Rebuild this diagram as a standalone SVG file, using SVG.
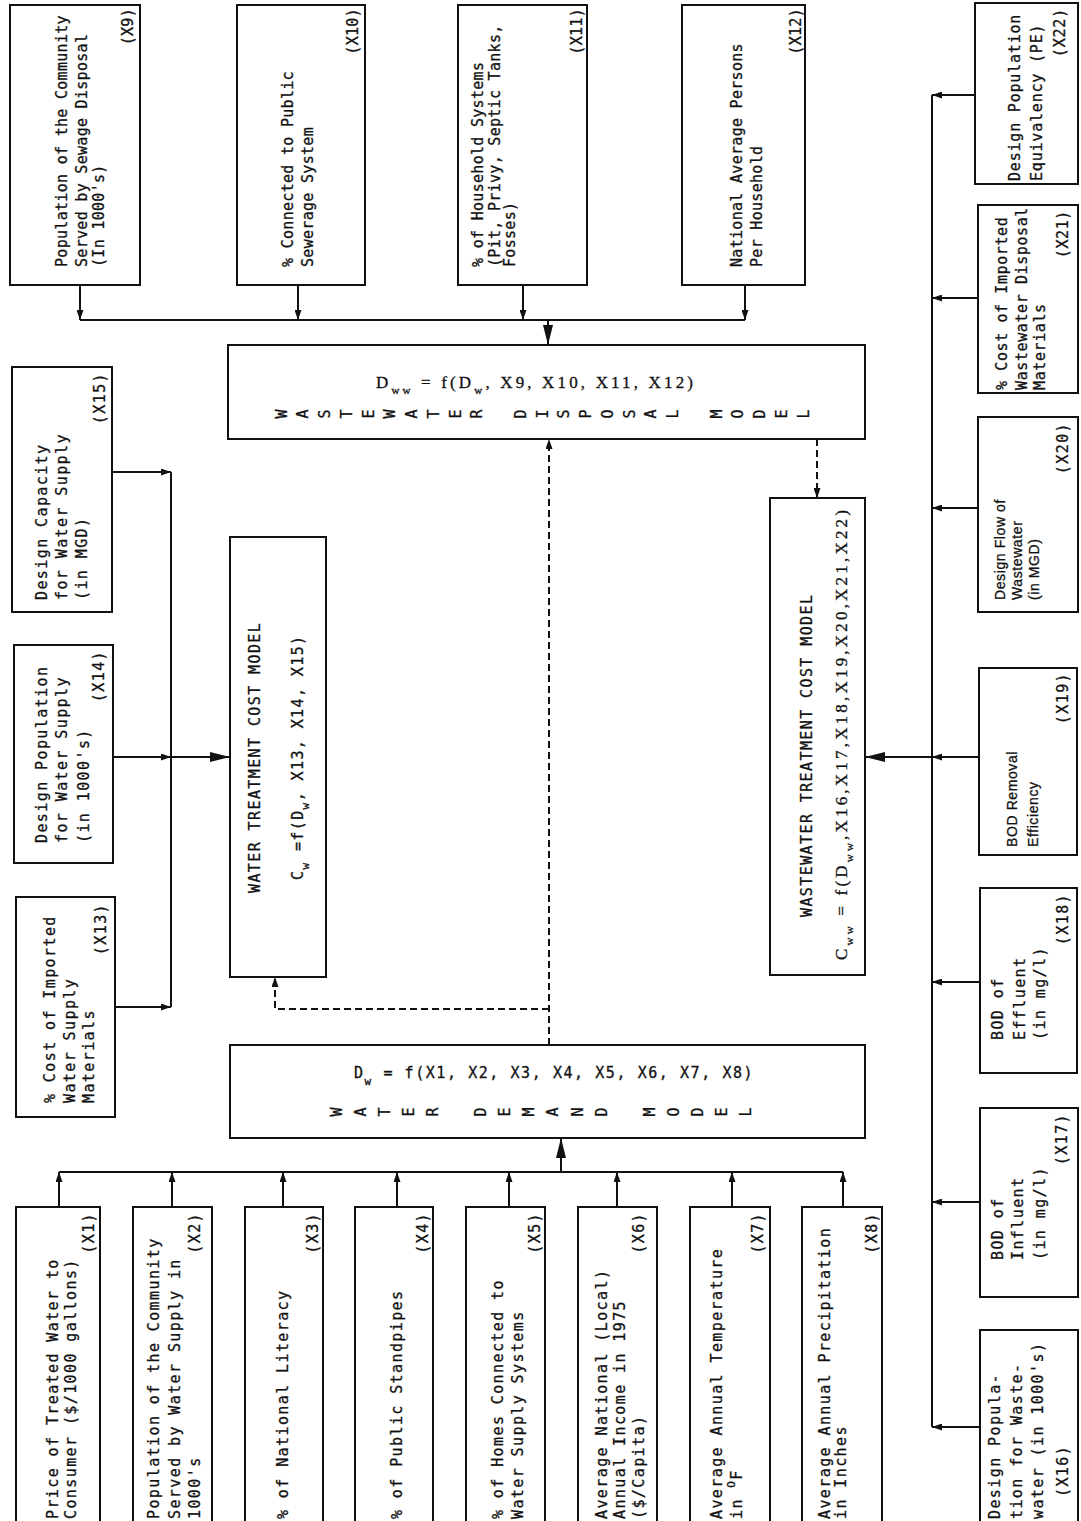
<svg xmlns="http://www.w3.org/2000/svg" width="1081" height="1521" viewBox="0 0 1081 1521">
<style>
.box{fill:#fff;stroke:#111;stroke-width:2}
.t{font-family:"DejaVu Sans Mono","Liberation Mono",monospace;font-size:15px;fill:#111;stroke:#111;stroke-width:0.3px;letter-spacing:1.4px}
.tt{letter-spacing:0.3px}
.ts{font-family:"Liberation Sans",Arial,sans-serif;font-size:14px;letter-spacing:0.6px}
.tf{font-family:"Liberation Serif","Times New Roman",serif;font-size:17px;letter-spacing:0}
.e{text-anchor:end}
.sub{font-size:11px}
.lt{font-family:"DejaVu Sans Mono",monospace;font-size:15px;fill:#111;stroke:#111;stroke-width:0.3px}
.c{stroke:#111;stroke-width:2;fill:none}
.d{stroke-dasharray:7 4}
</style>
<defs>
<marker id="a" viewBox="0 0 10 7" refX="10" refY="3.5" markerWidth="10" markerHeight="7" markerUnits="userSpaceOnUse" orient="auto"><path d="M0,0 L10,3.5 L0,7 z" fill="#111"/></marker>
<marker id="b" viewBox="0 0 20 10" refX="20" refY="5" markerWidth="20" markerHeight="10" markerUnits="userSpaceOnUse" orient="auto"><path d="M0,0 L20,5 L0,10 z" fill="#111"/></marker>
</defs>
<rect width="1081" height="1521" fill="#fff"/>

<g id="connectors">
<path class="c" d="M80,285V320" marker-end="url(#a)"/>
<path class="c" d="M298,285V320" marker-end="url(#a)"/>
<path class="c" d="M523,285V320" marker-end="url(#a)"/>
<path class="c" d="M745,285V320" marker-end="url(#a)"/>
<path class="c" d="M80,320H745"/>
<path class="c" d="M548,320V345" marker-end="url(#b)"/>
<path class="c" d="M59,1207V1172" marker-end="url(#a)"/>
<path class="c" d="M172,1207V1172" marker-end="url(#a)"/>
<path class="c" d="M283,1207V1172" marker-end="url(#a)"/>
<path class="c" d="M397,1207V1172" marker-end="url(#a)"/>
<path class="c" d="M509,1207V1172" marker-end="url(#a)"/>
<path class="c" d="M617,1207V1172" marker-end="url(#a)"/>
<path class="c" d="M732,1207V1172" marker-end="url(#a)"/>
<path class="c" d="M843,1207V1172" marker-end="url(#a)"/>
<path class="c" d="M59,1172H843"/>
<path class="c" d="M561,1172V1138" marker-end="url(#b)"/>
<path class="c" d="M112,472H171" marker-end="url(#a)"/>
<path class="c" d="M113,757H171" marker-end="url(#a)"/>
<path class="c" d="M115,1007H171" marker-end="url(#a)"/>
<path class="c" d="M171,472V1007"/>
<path class="c" d="M171,757H230" marker-end="url(#b)"/>
<path class="c" d="M975,95H932" marker-end="url(#a)"/>
<path class="c" d="M978,298H932" marker-end="url(#a)"/>
<path class="c" d="M978,508H932" marker-end="url(#a)"/>
<path class="c" d="M979,757H932" marker-end="url(#a)"/>
<path class="c" d="M980,982H932" marker-end="url(#a)"/>
<path class="c" d="M980,1202H932" marker-end="url(#a)"/>
<path class="c" d="M980,1427H932" marker-end="url(#a)"/>
<path class="c" d="M932,95V1427"/>
<path class="c" d="M932,757H865" marker-end="url(#b)"/>
<path class="c d" d="M549,1045V439" marker-end="url(#a)"/>
<path class="c d" d="M549,1009H275V977" marker-end="url(#a)"/>
<path class="c d" d="M817,439V498" marker-end="url(#a)"/>
</g>

<g id="dww">
<rect class="box" x="228" y="345" width="637" height="94"/>
<text class="t tf" x="376" y="388" textLength="317" lengthAdjust="spacing">D<tspan class="sub" dy="6">ww</tspan><tspan dy="-6"> = f(D</tspan><tspan class="sub" dy="6">w</tspan><tspan dy="-6">, X9, X10, X11, X12)</tspan></text>
<text class="lt" x="286.5 308.2 330 351.7 373.5 395.2 417 438.7 460.5 482.2 504 525.7 547.5 569.2 591 612.7 634.5 656.2 678 699.7 721.5 743.2 765 786.7 808.5" y="418.5" rotate="-90">WASTEWATER DISPOSAL MODEL</text>
</g>

<g id="dw">
<rect class="box" x="230" y="1045" width="635" height="93"/>
<text class="t" x="354" y="1078" textLength="400" lengthAdjust="spacing">D<tspan class="sub" dy="7">w</tspan><tspan dy="-7"> = f(X1, X2, X3, X4, X5, X6, X7, X8)</tspan></text>
<text class="lt" x="341.5 365.6 389.7 413.8 437.9 462 486.1 510.2 534.3 558.4 582.5 606.6 630.7 654.8 678.9 703 727.1 751.2" y="1116.5" rotate="-90">WATER DEMAND MODEL</text>
</g>

<g id="cw" transform="translate(230,977) rotate(-90)">
<rect class="box" x="0" y="0" width="440" height="96"/>
<text class="t" x="84" y="30">WATER TREATMENT COST MODEL</text>
<text class="t" x="97" y="73">C<tspan class="sub" dy="6">w</tspan><tspan dy="-6"> =f(D</tspan><tspan class="sub" dy="6">w</tspan><tspan dy="-6">, X13, X14, X15)</tspan></text>
</g>

<g id="cww" transform="translate(770,975) rotate(-90)">
<rect class="box" x="0" y="0" width="477" height="95"/>
<text class="t" x="58" y="42">WASTEWATER TREATMENT COST MODEL</text>
<text class="t tf" x="15" y="77" textLength="450" lengthAdjust="spacing">C<tspan class="sub" dy="6">ww</tspan><tspan dy="-6"> = f(D</tspan><tspan class="sub" dy="6">ww</tspan><tspan dy="-6">,X16,X17,X18,X19,X20,X21,X22)</tspan></text>
</g>

<g id="x1" transform="translate(16,1530) rotate(-90)">
<rect class="box" x="0" y="0" width="323" height="84"/>
<text class="t" x="11" y="42">Price of Treated Water to</text>
<text class="t" x="11" y="60">Consumer ($/1000 gallons)</text>
<text class="t e" x="318" y="78">(X1)</text>
</g>
<g id="x2" transform="translate(133,1530) rotate(-90)">
<rect class="box" x="0" y="0" width="323" height="79"/>
<text class="t" x="11" y="26">Population of the Community</text>
<text class="t" x="11" y="47">Served by Water Supply in</text>
<text class="t" x="11" y="67">1000's</text>
<text class="t e" x="318" y="67">(X2)</text>
</g>
<g id="x3" transform="translate(245,1530) rotate(-90)">
<rect class="box" x="0" y="0" width="323" height="78"/>
<text class="t" x="11" y="43">% of National Literacy</text>
<text class="t e" x="318" y="73">(X3)</text>
</g>
<g id="x4" transform="translate(355,1530) rotate(-90)">
<rect class="box" x="0" y="0" width="323" height="78"/>
<text class="t" x="11" y="47">% of Public Standpipes</text>
<text class="t e" x="318" y="73">(X4)</text>
</g>
<g id="x5" transform="translate(466,1530) rotate(-90)">
<rect class="box" x="0" y="0" width="323" height="79"/>
<text class="t" x="11" y="37">% of Homes Connected to</text>
<text class="t" x="11" y="57">Water Supply Systems</text>
<text class="t e" x="318" y="74">(X5)</text>
</g>
<g id="x6" transform="translate(578,1530) rotate(-90)">
<rect class="box" x="0" y="0" width="323" height="79"/>
<text class="t" x="11" y="29">Average National (Local)</text>
<text class="t" x="11" y="47">Annual Income in 1975</text>
<text class="t" x="11" y="66">($/Capita)</text>
<text class="t e" x="318" y="66">(X6)</text>
</g>
<g id="x7" transform="translate(690,1530) rotate(-90)">
<rect class="box" x="0" y="0" width="323" height="80"/>
<text class="t" x="11" y="32">Average Annual Temperature</text>
<text class="t" x="11" y="52">in <tspan class="sub" dy="-7">O</tspan><tspan dy="7">F</tspan></text>
<text class="t e" x="318" y="73">(X7)</text>
</g>
<g id="x8" transform="translate(802,1530) rotate(-90)">
<rect class="box" x="0" y="0" width="323" height="80"/>
<text class="t" x="11" y="28">Average Annual Precipitation</text>
<text class="t" x="11" y="44">in Inches</text>
<text class="t e" x="318" y="75">(X8)</text>
</g>

<g id="x9" transform="translate(10,285) rotate(-90)">
<rect class="box" x="0" y="0" width="280" height="130"/>
<text class="t tt" x="18" y="57">Population of the Community</text>
<text class="t tt" x="18" y="77">Served by Sewage Disposal</text>
<text class="t tt" x="18" y="94">(In 1000's)</text>
<text class="t tt e" x="277" y="123">(X9)</text>
</g>
<g id="x10" transform="translate(237,285) rotate(-90)">
<rect class="box" x="0" y="0" width="280" height="128"/>
<text class="t tt" x="18" y="56">% Connected to Public</text>
<text class="t tt" x="18" y="76">Sewerage System</text>
<text class="t tt e" x="277" y="121">(X10)</text>
</g>
<g id="x11" transform="translate(458,285) rotate(-90)">
<rect class="box" x="0" y="0" width="280" height="129"/>
<text class="t tt" x="18" y="25">% of Household Systems</text>
<text class="t tt" x="18" y="42">(Pit, Privy, Septic Tanks,</text>
<text class="t tt" x="18" y="57">Fosses)</text>
<text class="t tt e" x="277" y="124">(X11)</text>
</g>
<g id="x12" transform="translate(682,285) rotate(-90)">
<rect class="box" x="0" y="0" width="280" height="123"/>
<text class="t tt" x="18" y="60">National Average Persons</text>
<text class="t tt" x="18" y="80">Per Household</text>
<text class="t tt e" x="277" y="119">(X12)</text>
</g>

<g id="x15" transform="translate(12,612) rotate(-90)">
<rect class="box" x="0" y="0" width="245" height="100"/>
<text class="t" x="12" y="35">Design Capacity</text>
<text class="t" x="12" y="55">for Water Supply</text>
<text class="t" x="12" y="75">(in MGD)</text>
<text class="t e" x="240" y="93">(X15)</text>
</g>
<g id="x14" transform="translate(14,863) rotate(-90)">
<rect class="box" x="0" y="0" width="218" height="99"/>
<text class="t" x="20" y="33">Design Population</text>
<text class="t" x="20" y="53">for Water Supply</text>
<text class="t" x="20" y="75">(in 1000's)</text>
<text class="t e" x="213" y="90">(X14)</text>
</g>
<g id="x13" transform="translate(16,1117) rotate(-90)">
<rect class="box" x="0" y="0" width="220" height="99"/>
<text class="t" x="14" y="39">% Cost of Imported</text>
<text class="t" x="14" y="59">Water Supply</text>
<text class="t" x="14" y="78">Materials</text>
<text class="t e" x="214" y="90">(X13)</text>
</g>

<g id="x22" transform="translate(975,184) rotate(-90)">
<rect class="box" x="0" y="0" width="181" height="103"/>
<text class="t" x="3" y="45" style="letter-spacing:0.8px">Design Population</text>
<text class="t" x="3" y="67" style="letter-spacing:0.8px">Equivalency (PE)</text>
<text class="t e" x="176" y="90" style="letter-spacing:0.8px">(X22)</text>
</g>
<g id="x21" transform="translate(978,393) rotate(-90)">
<rect class="box" x="0" y="0" width="188" height="100"/>
<text class="t" x="3" y="29" style="letter-spacing:0.6px">% Cost of Imported</text>
<text class="t" x="3" y="49" style="letter-spacing:0.6px">Wastewater Disposal</text>
<text class="t" x="3" y="67" style="letter-spacing:0.6px">Materials</text>
<text class="t e" x="183" y="90" style="letter-spacing:0.6px">(X21)</text>
</g>
<g id="x20" transform="translate(978,612) rotate(-90)">
<rect class="box" x="0" y="0" width="195" height="100"/>
<text class="t ts" x="12" y="27">Design Flow of</text>
<text class="t ts" x="12" y="44">Wastewater</text>
<text class="t ts" x="12" y="61">(in MGD)</text>
<text class="t e" x="190" y="90">(X20)</text>
</g>
<g id="x19" transform="translate(979,855) rotate(-90)">
<rect class="box" x="0" y="0" width="187" height="98"/>
<text class="t ts" x="8" y="38">BOD Removal</text>
<text class="t ts" x="8" y="59">Efficiency</text>
<text class="t e" x="183" y="89">(X19)</text>
</g>
<g id="x18" transform="translate(980,1073) rotate(-90)">
<rect class="box" x="0" y="0" width="185" height="97"/>
<text class="t" x="33" y="23">BOD of</text>
<text class="t" x="33" y="45">Effluent</text>
<text class="t" x="33" y="65">(in mg/l)</text>
<text class="t e" x="180" y="88">(X18)</text>
</g>
<g id="x17" transform="translate(980,1297) rotate(-90)">
<rect class="box" x="0" y="0" width="189" height="98"/>
<text class="t" x="37" y="23">BOD of</text>
<text class="t" x="37" y="43">Influent</text>
<text class="t" x="37" y="65">(in mg/l)</text>
<text class="t e" x="184" y="87">(X17)</text>
</g>
<g id="x16" transform="translate(980,1530) rotate(-90)">
<rect class="box" x="0" y="0" width="200" height="98"/>
<text class="t" x="11" y="20">Design Popula-</text>
<text class="t" x="11" y="42">tion for Waste-</text>
<text class="t" x="11" y="63">water (in 1000's)</text>
<text class="t" x="33" y="88">(X16)</text>
</g>
</svg>
